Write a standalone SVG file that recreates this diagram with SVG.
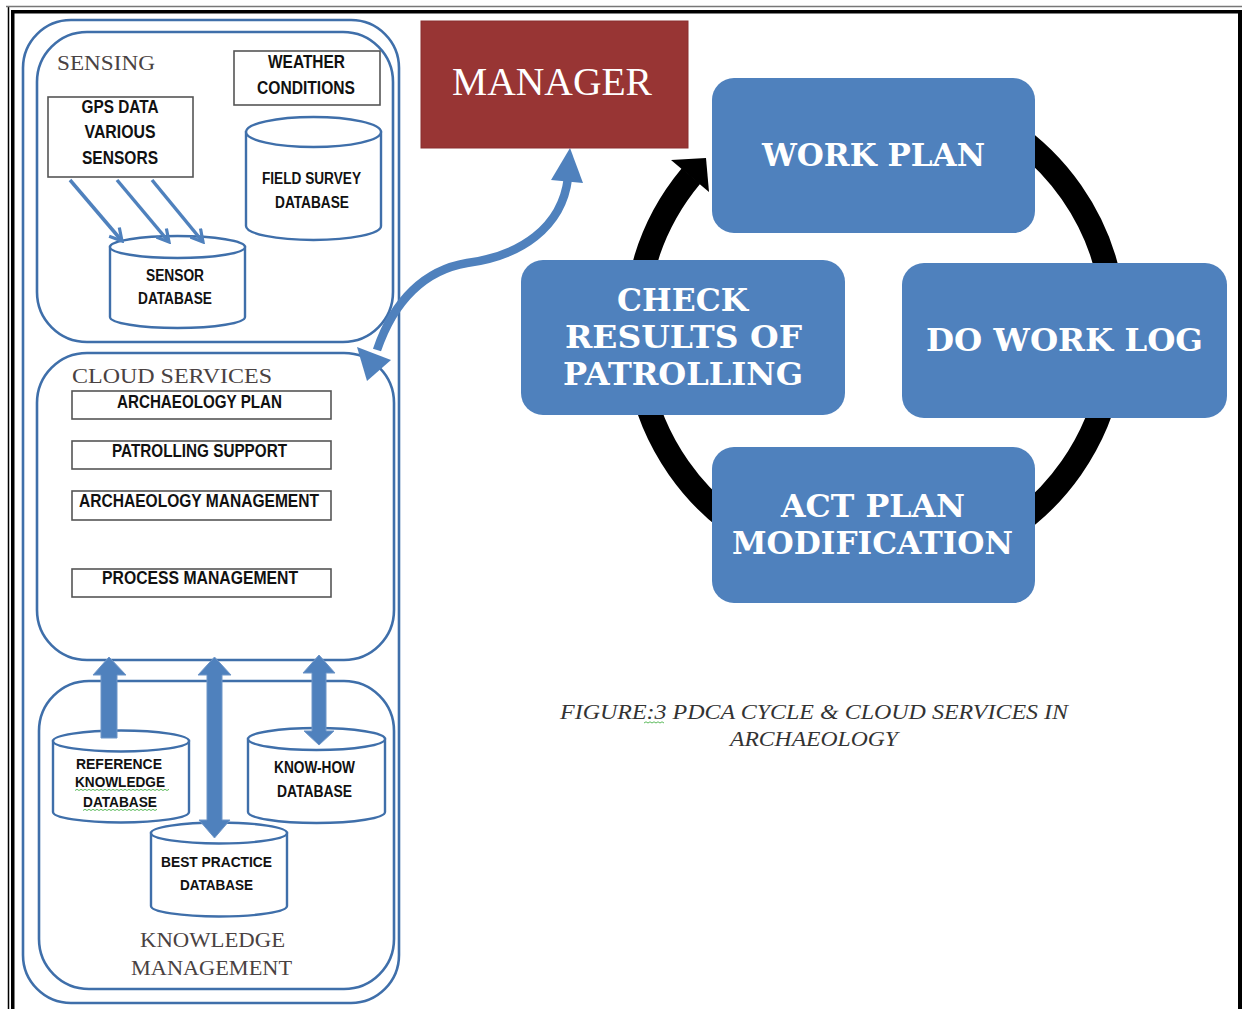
<svg xmlns="http://www.w3.org/2000/svg" width="1242" height="1009" viewBox="0 0 1242 1009">
  <defs>
    <style>
      .panel { fill: none; stroke: #3F6FAA; stroke-width: 2.6; }
      .db { fill: #ffffff; stroke: #3F6FAA; stroke-width: 2.4; }
      .tbox { fill: #ffffff; stroke: #555555; stroke-width: 1.6; }
      .lbl { font-family: "Liberation Sans Narrow", "Liberation Sans", Arial, sans-serif; font-weight: bold; fill: #111111; text-anchor: middle; }
      .title { font-family: "Liberation Serif", "DejaVu Serif", serif; fill: #4a4242; }
      .pdca { fill: #4F81BD; }
      .ptxt { font-family: "DejaVu Serif", "Liberation Serif", serif; font-weight: bold; fill: #ffffff; text-anchor: middle; font-size: 31px; }
      .arc { fill: none; stroke: #000000; stroke-width: 24; }
      .blk { fill: #4F81BD; stroke: #6F96C8; stroke-width: 1; }
      .thin { fill: none; stroke: #4F81BD; stroke-width: 3.5; }
      .squig { fill: none; stroke: #5DBB5D; stroke-width: 1; }
    </style>
    <marker id="openHead" viewBox="0 0 12 12" refX="10" refY="6" markerWidth="16" markerHeight="16" markerUnits="userSpaceOnUse" orient="auto">
      <path d="M1,1 L10,6 L1,11" fill="none" stroke="#4F81BD" stroke-width="2.4"/>
    </marker>
  </defs>

  <rect width="1242" height="1009" fill="#ffffff"/>

  <!-- page frame -->
  <g id="frame">
    <line x1="8.5" y1="6" x2="8.5" y2="1009" stroke="#000" stroke-width="1.5"/>
    <line x1="6" y1="6.5" x2="1242" y2="6.5" stroke="#777" stroke-width="1.5"/>
    <rect x="11" y="10" width="1231" height="3.5" fill="#000"/>
    <rect x="11" y="10" width="3.5" height="999" fill="#000"/>
    <rect x="1238" y="10" width="4" height="999" fill="#000"/>
  </g>

  <!-- left panel -->
  <g id="left-panel">
    <rect class="panel" x="23" y="20" width="376" height="983" rx="48"/>
  </g>

  <!-- sensing block -->
  <g id="sensing">
    <rect class="panel" x="37" y="32" width="356" height="310" rx="50"/>
    <text class="title" x="57" y="70" font-size="20" textLength="98" lengthAdjust="spacingAndGlyphs">SENSING</text>
  </g>

  <g id="weather-conditions">
    <rect class="tbox" x="234" y="51" width="146" height="54"/>
    <text class="lbl" x="306.5" y="68" font-size="18" textLength="77" lengthAdjust="spacingAndGlyphs">WEATHER</text>
    <text class="lbl" x="306" y="94" font-size="18" textLength="98" lengthAdjust="spacingAndGlyphs">CONDITIONS</text>
  </g>

  <g id="gps-sensors">
    <rect class="tbox" x="48" y="97" width="145" height="80"/>
    <text class="lbl" x="120" y="113" font-size="18" textLength="77" lengthAdjust="spacingAndGlyphs">GPS DATA</text>
    <text class="lbl" x="120" y="138" font-size="18" textLength="71" lengthAdjust="spacingAndGlyphs">VARIOUS</text>
    <text class="lbl" x="120" y="164" font-size="18" textLength="76" lengthAdjust="spacingAndGlyphs">SENSORS</text>
  </g>

  <g id="field-survey-db">
    <path class="db" d="M246 132 V226 A67.5 14 0 0 0 381 226 V132 Z"/>
    <ellipse class="db" cx="313.5" cy="132" rx="67.5" ry="15"/>
    <text class="lbl" x="311.5" y="184" font-size="16" textLength="99" lengthAdjust="spacingAndGlyphs">FIELD SURVEY</text>
    <text class="lbl" x="312" y="208" font-size="16" textLength="74" lengthAdjust="spacingAndGlyphs">DATABASE</text>
  </g>

  <g id="sensor-db">
    <path class="db" d="M110 247 V317 A67.5 11 0 0 0 245 317 V247 Z"/>
    <ellipse class="db" cx="177.5" cy="247" rx="67.5" ry="11"/>
    <text class="lbl" x="175" y="281" font-size="16" textLength="58" lengthAdjust="spacingAndGlyphs">SENSOR</text>
    <text class="lbl" x="175" y="304" font-size="16" textLength="74" lengthAdjust="spacingAndGlyphs">DATABASE</text>
  </g>

  <!-- cloud services block -->
  <g id="cloud-services">
    <rect class="panel" x="37" y="353" width="357" height="307" rx="50"/>
    <text class="title" x="72" y="383" font-size="20" textLength="200" lengthAdjust="spacingAndGlyphs">CLOUD SERVICES</text>
  </g>

  <g id="archaeology-plan">
    <rect class="tbox" x="72" y="391" width="259" height="28"/>
    <text class="lbl" x="199.5" y="408" font-size="18" textLength="165" lengthAdjust="spacingAndGlyphs">ARCHAEOLOGY PLAN</text>
  </g>
  <g id="patrolling-support">
    <rect class="tbox" x="72" y="441" width="259" height="28"/>
    <text class="lbl" x="199.5" y="457" font-size="18" textLength="175" lengthAdjust="spacingAndGlyphs">PATROLLING SUPPORT</text>
  </g>
  <g id="archaeology-management">
    <rect class="tbox" x="72" y="491" width="259" height="29"/>
    <text class="lbl" x="199" y="507" font-size="18" textLength="240" lengthAdjust="spacingAndGlyphs">ARCHAEOLOGY MANAGEMENT</text>
  </g>
  <g id="process-management">
    <rect class="tbox" x="72" y="569" width="259" height="28"/>
    <text class="lbl" x="200" y="584" font-size="18" textLength="196" lengthAdjust="spacingAndGlyphs">PROCESS MANAGEMENT</text>
  </g>

  <!-- knowledge management block -->
  <g id="knowledge-management">
    <rect class="panel" x="39" y="681" width="355" height="308" rx="50"/>
    <text class="title" x="212.5" y="947" font-size="20" text-anchor="middle" textLength="145" lengthAdjust="spacingAndGlyphs">KNOWLEDGE</text>
    <text class="title" x="211.5" y="975" font-size="20" text-anchor="middle" textLength="161" lengthAdjust="spacingAndGlyphs">MANAGEMENT</text>
  </g>

  <g id="reference-knowledge-db">
    <path class="db" d="M53 741 V812 A68 10.5 0 0 0 189 812 V741 Z"/>
    <ellipse class="db" cx="121" cy="741" rx="68" ry="10.5"/>
    <text class="lbl" x="119" y="769" font-size="14" textLength="86" lengthAdjust="spacingAndGlyphs">REFERENCE</text>
    <text class="lbl" x="120" y="787" font-size="14" textLength="90" lengthAdjust="spacingAndGlyphs">KNOWLEDGE</text>
    <text class="lbl" x="120" y="807" font-size="14" textLength="74" lengthAdjust="spacingAndGlyphs">DATABASE</text>
    <path class="squig" d="M75 790.5 l2 -1.2 l2 1.2 l2 -1.2 l2 1.2 l2 -1.2 l2 1.2 l2 -1.2 l2 1.2 l2 -1.2 l2 1.2 l2 -1.2 l2 1.2 l2 -1.2 l2 1.2 l2 -1.2 l2 1.2 l2 -1.2 l2 1.2 l2 -1.2 l2 1.2 l2 -1.2 l2 1.2 l2 -1.2 l2 1.2 l2 -1.2 l2 1.2 l2 -1.2 l2 1.2 l2 -1.2 l2 1.2 l2 -1.2 l2 1.2 l2 -1.2 l2 1.2 l2 -1.2 l2 1.2 l2 -1.2 l2 1.2 l2 -1.2 l2 1.2 l2 -1.2 l2 1.2 l2 -1.2 l2 1.2 l2 -1.2 l2 1.2 l2 -1.2"/>
    <path class="squig" d="M83 810.5 l2 -1.2 l2 1.2 l2 -1.2 l2 1.2 l2 -1.2 l2 1.2 l2 -1.2 l2 1.2 l2 -1.2 l2 1.2 l2 -1.2 l2 1.2 l2 -1.2 l2 1.2 l2 -1.2 l2 1.2 l2 -1.2 l2 1.2 l2 -1.2 l2 1.2 l2 -1.2 l2 1.2 l2 -1.2 l2 1.2 l2 -1.2 l2 1.2 l2 -1.2 l2 1.2 l2 -1.2 l2 1.2 l2 -1.2 l2 1.2 l2 -1.2 l2 1.2 l2 -1.2 l2 1.2 l2 -1.2"/>
  </g>

  <g id="know-how-db">
    <path class="db" d="M248 739 V812 A68.5 11 0 0 0 385 812 V739 Z"/>
    <ellipse class="db" cx="316.5" cy="739" rx="68.5" ry="11"/>
    <text class="lbl" x="314.5" y="773" font-size="16" textLength="81" lengthAdjust="spacingAndGlyphs">KNOW-HOW</text>
    <text class="lbl" x="314.5" y="797" font-size="16" textLength="75" lengthAdjust="spacingAndGlyphs">DATABASE</text>
  </g>

  <g id="best-practice-db">
    <path class="db" d="M151 833 V906 A68 10.5 0 0 0 287 906 V833 Z"/>
    <ellipse class="db" cx="219" cy="833" rx="68" ry="10.5"/>
    <text class="lbl" x="216.5" y="867" font-size="15" textLength="111" lengthAdjust="spacingAndGlyphs">BEST PRACTICE</text>
    <text class="lbl" x="216.5" y="890" font-size="15" textLength="73" lengthAdjust="spacingAndGlyphs">DATABASE</text>
  </g>

  <!-- caption -->
  <g id="caption" font-family="Liberation Serif, DejaVu Serif, serif" font-style="italic" font-size="21" fill="#333333" text-anchor="middle">
    <text x="814" y="719" textLength="508" lengthAdjust="spacingAndGlyphs">FIGURE:3 PDCA CYCLE &amp;  CLOUD SERVICES IN</text>
    <text x="814" y="746" textLength="168" lengthAdjust="spacingAndGlyphs">ARCHAEOLOGY</text>
    <path class="squig" d="M644 723 l2 -1.2 l2 1.2 l2 -1.2 l2 1.2 l2 -1.2 l2 1.2 l2 -1.2 l2 1.2 l2 -1.2 l2 1.2"/>
  </g>

  <!-- connectors -->
  <g id="connectors">
    <!-- sensor feeds -->
    <line class="thin" x1="70" y1="180" x2="122" y2="241" marker-end="url(#openHead)"/>
    <line class="thin" x1="117" y1="180" x2="169" y2="242" marker-end="url(#openHead)"/>
    <line class="thin" x1="152" y1="180" x2="203" y2="242" marker-end="url(#openHead)"/>

    <!-- knowledge to cloud block arrows -->
    <polygon class="blk" points="109,657 126,675 117,675 117,738 101,738 101,675 93,675"/>
    <polygon class="blk" points="214.5,657 231,675 222,675 222,820 230,820 214.5,838 199,820 207,820 207,675 198,675"/>
    <polygon class="blk" points="319,655 335,673 326,673 326,731 334,731 319,745 304,731 312,731 312,673 303,673"/>

    <!-- cloud services to manager -->
    <path d="M568 178 C 562 228 520 256 467 263 C 425 270 394 300 377 350" fill="none" stroke="#4F81BD" stroke-width="8.5"/>
    <polygon points="570,148 583,183 551,180" fill="#4F81BD"/>
    <polygon points="367,381 357,347 391,360" fill="#4F81BD"/>

    <!-- PDCA cycle arcs -->
    <path class="arc" d="M639 288 A240 240 0 0 1 691 176"/>
    <polygon points="671,160 706,158 709,192" fill="#000"/>
    <path class="arc" d="M995 122 A240 240 0 0 1 1111 288"/>
    <path class="arc" d="M1111 372 A240 240 0 0 1 995 538"/>
    <path class="arc" d="M755 538 A240 240 0 0 1 639 372"/>
  </g>

  <!-- manager -->
  <g id="manager">
    <rect x="421" y="21" width="267" height="127" fill="#983534" stroke="#8a2f2e" stroke-width="1"/>
    <text x="552" y="95" font-family="Liberation Serif, serif" font-size="40" fill="#ffffff" text-anchor="middle" textLength="200" lengthAdjust="spacingAndGlyphs">MANAGER</text>
  </g>

  <!-- PDCA steps -->
  <g id="work-plan">
    <rect class="pdca" x="712" y="78" width="323" height="155" rx="22"/>
    <text class="ptxt" x="873.5" y="166" textLength="223" lengthAdjust="spacingAndGlyphs">WORK PLAN</text>
  </g>
  <g id="do-work-log">
    <rect class="pdca" x="902" y="263" width="325" height="155" rx="22"/>
    <text class="ptxt" x="1064.5" y="351" textLength="277" lengthAdjust="spacingAndGlyphs">DO WORK LOG</text>
  </g>
  <g id="act-plan-modification">
    <rect class="pdca" x="712" y="447" width="323" height="156" rx="22"/>
    <text class="ptxt" x="873" y="517" textLength="184" lengthAdjust="spacingAndGlyphs">ACT PLAN</text>
    <text class="ptxt" x="872.5" y="554" textLength="281" lengthAdjust="spacingAndGlyphs">MODIFICATION</text>
  </g>
  <g id="check-results">
    <rect class="pdca" x="521" y="260" width="324" height="155" rx="22"/>
    <text class="ptxt" x="682.5" y="311" textLength="131" lengthAdjust="spacingAndGlyphs">CHECK</text>
    <text class="ptxt" x="683.5" y="348" textLength="237" lengthAdjust="spacingAndGlyphs">RESULTS OF</text>
    <text class="ptxt" x="683" y="385" textLength="240" lengthAdjust="spacingAndGlyphs">PATROLLING</text>
  </g>
</svg>
